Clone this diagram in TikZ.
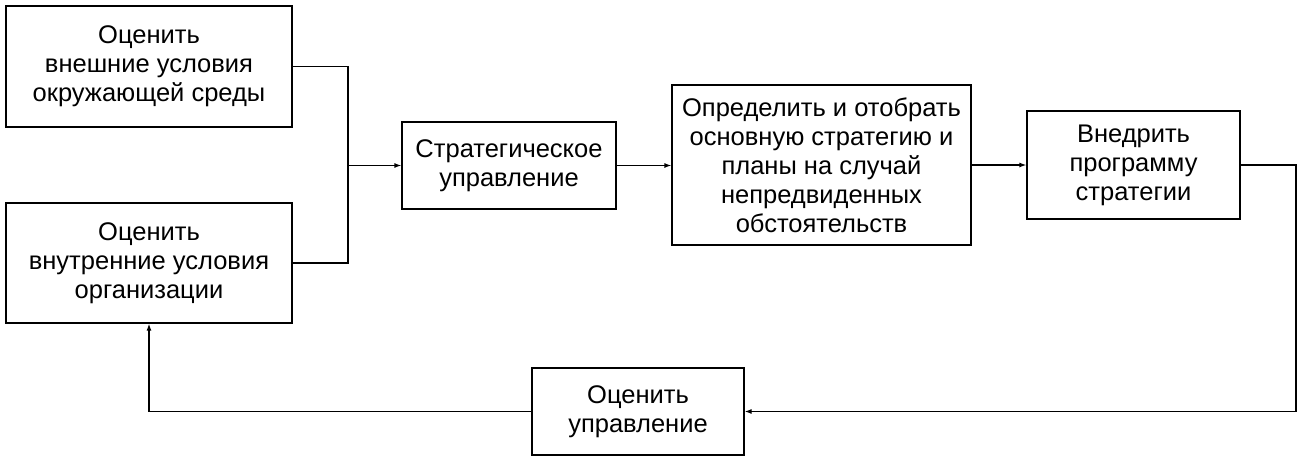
\documentclass[tikz,border=0pt]{standalone}
\usepackage{fontspec}
\setmainfont{Liberation Sans}
\usetikzlibrary{arrows.meta}
\tikzset{
	box/.style={draw, line width=1.2pt, align=center, font=\fontsize{25.5}{29}\selectfont, inner sep=0pt},
	arr/.style={line width=1.2pt, -{Latex[length=7pt,width=5pt]}},
	link/.style={line width=1.2pt}
}

\begin{document}
\begin{tikzpicture}[x=1pt,y=-1pt]
	\useasboundingbox (0,0) rectangle (1303,463);
	% boxes
	\node[box, minimum width=286pt, minimum height=121pt] (ext) at (149,66.5) {Оценить\\внешние условия\\окружающей среды};
	\node[box, minimum width=286pt, minimum height=120pt] (int) at (149,263) {Оценить\\внутренние условия\\организации};
	\node[box, minimum width=214pt, minimum height=87pt] (strat) at (509,165.5) {Стратегическое\\управление};
	\node[box, minimum width=299pt, minimum height=160pt] (choose) at (821.5,165) {Определить и отобрать\\основную стратегию и\\планы на случай\\непредвиденных\\обстоятельств};
	\node[box, minimum width=213pt, minimum height=108pt] (impl) at (1133.5,165) {Внедрить\\программу\\стратегии};
	\node[box, minimum width=212pt, minimum height=87pt] (eval) at (638,411.5) {Оценить\\управление};
	% turning points
	\coordinate (bus) at (348,165.5);
	\coordinate (rturn) at (1296,411.5);
	% connectors
	\draw[link] (ext.east) -| (bus);
	\draw[link] (int.east) -| (bus);
	\draw[arr] (bus) -- (strat.west);
	\draw[arr] (strat.east) -- (strat.east -| choose.west);
	\draw[arr] (choose.east) -- (impl.west);
	\draw[link] (impl.east) -| (rturn);
	\draw[arr] (rturn) -- (eval.east);
	\draw[arr] (eval.west) -| (int.south);
\end{tikzpicture}
\end{document}
